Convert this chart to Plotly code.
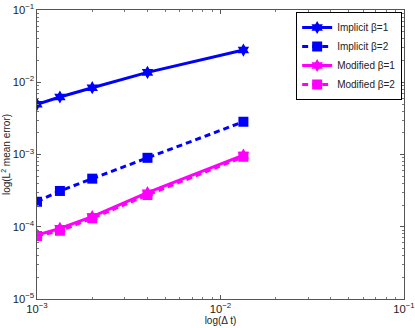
import plotly.graph_objects as go

dt = [1.0e-3, 1.333e-3, 2.0e-3, 4.0e-3, 1.333e-2]

implicit_b1 = [4.95e-3, 6.25e-3, 8.4e-3, 1.37e-2, 2.79e-2]
implicit_b2 = [2.22e-4, 3.13e-4, 4.63e-4, 9.0e-4, 2.84e-3]
modified_b1 = [7.7e-5, 9.5e-5, 1.38e-4, 2.96e-4, 9.8e-4]
modified_b2 = [7.45e-5, 8.8e-5, 1.31e-4, 2.75e-4, 9.3e-4]

series = [
    ("Implicit β=1", implicit_b1, "#0000ff", "solid", "hexagram"),
    ("Implicit β=2", implicit_b2, "#0000ff", "6px,4px", "square"),
    ("Modified β=1", modified_b1, "#ff00ff", "solid", "hexagram"),
    ("Modified β=2", modified_b2, "#ff00ff", "6px,4px", "square"),
]

fig = go.Figure()
for name, vals, color, dash, symbol in series:
    fig.add_trace(
        go.Scatter(
            x=dt,
            y=vals,
            mode="lines+markers",
            name=name,
            line=dict(color=color, width=3, dash=dash),
            marker=dict(symbol=symbol, size=10, color=color, line=dict(width=0)),
        )
    )

axis_common = dict(
    type="log",
    dtick=1,
    exponentformat="power",
    showexponent="all",
    showgrid=False,
    zeroline=False,
    showline=True,
    linecolor="#555555",
    linewidth=1,
    mirror="allticks",
    ticks="inside",
    ticklen=4,
    tickcolor="#555555",
    ticklabeloverflow="allow",
    minor=dict(ticks="inside", ticklen=2, tickcolor="#777777", showgrid=False),
    tickfont=dict(size=9, color="#222222"),
)

fig.update_xaxes(
    range=[-3, -1],
    title=dict(text="log(Δ t)", font=dict(size=10, color="#222222"), standoff=2),
    **axis_common,
)
fig.update_yaxes(
    range=[-5, -1],
    title=dict(text="log(L<sup>2</sup> mean error)", font=dict(size=10, color="#222222"), standoff=2),
    **axis_common,
)

fig.update_layout(
    width=415,
    height=328,
    margin=dict(l=37, r=11, t=10, b=29, autoexpand=False),
    paper_bgcolor="white",
    plot_bgcolor="white",
    font=dict(family="Liberation Sans, Arial, sans-serif"),
    legend=dict(
        x=0.995,
        y=0.993,
        xanchor="right",
        yanchor="top",
        bgcolor="white",
        bordercolor="black",
        borderwidth=1,
        font=dict(size=10, color="#222222"),
        itemwidth=30,
        tracegroupgap=0,
    ),
    showlegend=True,
)

# drop the browser's default body margin so the figure sits at the page corner
fig.write_html(
    "out.html",
    config={"displayModeBar": False},
    post_script="document.body.style.margin='0';",
)
